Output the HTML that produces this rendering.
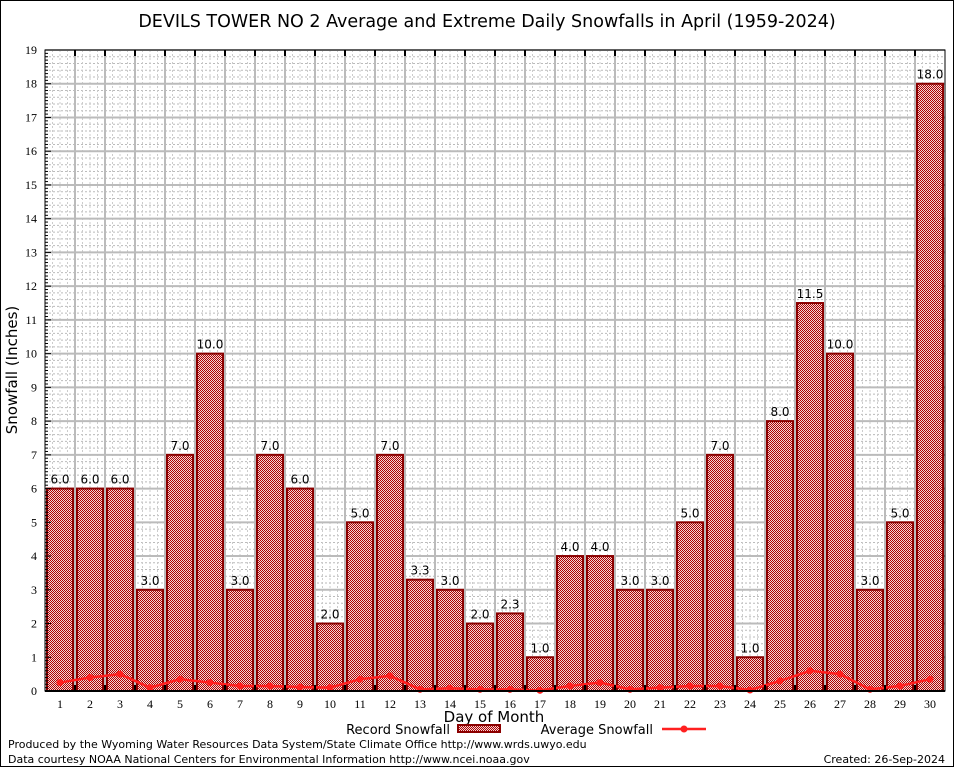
<!DOCTYPE html>
<html><head><meta charset="utf-8"><style>
body{margin:0;background:#fff}
svg text{font-family:"DejaVu Sans","Liberation Sans",sans-serif}
.tk{font-family:"Liberation Serif","DejaVu Serif",serif;font-size:12px}
</style></head><body>
<svg id="c" width="954" height="768" xmlns="http://www.w3.org/2000/svg">
<defs>
<pattern id="chk" width="2" height="2" patternUnits="userSpaceOnUse">
<rect width="2" height="2" fill="#f0d8d8"/><rect width="1" height="1" fill="#b00000"/><rect x="1" y="1" width="1" height="1" fill="#b00000"/>
</pattern>
</defs>
<rect x="0.5" y="0.5" width="953" height="766" fill="#fff" stroke="#000"/>
<text x="487" y="27" font-size="17.5" text-anchor="middle">DEVILS TOWER NO 2 Average and Extreme Daily Snowfalls in April (1959-2024)</text>
<g id="grid"></g>
<g id="bars"></g>
<g id="avg"></g>
<g id="axes"></g>
<text x="17" y="370" font-size="15" text-anchor="middle" transform="rotate(-90 17 370)">Snowfall (Inches)</text>
<text x="494" y="722" font-size="15" text-anchor="middle">Day of Month</text>
<g>
<text x="450" y="734" font-size="13" text-anchor="end">Record Snowfall</text>
<rect x="458" y="725" width="42" height="7" fill="url(#chk)" stroke="#8b0000" stroke-width="2"/>
<text x="653" y="734" font-size="13" text-anchor="end">Average Snowfall</text>
<line x1="662" y1="729" x2="706" y2="729" stroke="#ff2020" stroke-width="2.5"/>
<circle cx="684" cy="729" r="3.5" fill="#ff2020"/>
</g>
<text x="8" y="748" font-size="11">Produced by the Wyoming Water Resources Data System/State Climate Office http://www.wrds.uwyo.edu</text>
<text x="8" y="763" font-size="11">Data courtesy NOAA National Centers for Environmental Information http://www.ncei.noaa.gov</text>
<text x="945" y="763" font-size="11" text-anchor="end">Created: 26-Sep-2024</text>
</svg>
<script>
const days=[1,2,3,4,5,6,7,8,9,10,11,12,13,14,15,16,17,18,19,20,21,22,23,24,25,26,27,28,29,30];
const recordSnow=[6,6,6,3,7,10,3,7,6,2,5,7,3.3,3,2,2.3,1,4,4,3,3,5,7,1,8,11.5,10,3,5,18];
const avgSnow=[0.25,0.4,0.5,0.1,0.35,0.25,0.15,0.15,0.12,0.1,0.35,0.45,0.05,0.08,0.05,0.05,0.02,0.15,0.25,0.05,0.1,0.15,0.15,0.03,0.3,0.6,0.5,0.05,0.15,0.35];
const yTicks=[0,1,2,3,4,5,6,7,8,9,10,11,12,13,14,15,16,17,18,19];
const L=45,R=945,T=50,B=691,YMAX=19;
const x=d=>L+(d-0.5)*30;
const y=v=>B-(v/YMAX)*(B-T);
const NS="http://www.w3.org/2000/svg";
function mk(p,tag,at){const e=document.createElementNS(NS,tag);for(const k in at)e.setAttribute(k,at[k]);p.appendChild(e);return e;}
const g=document.getElementById('grid');
mk(g,'rect',{x:L,y:T,width:R-L,height:B-T,fill:'#fff'});
for(let v=0;v<YMAX;v+=0.2){mk(g,'line',{x1:L,x2:R,y1:y(v),y2:y(v),stroke:'#bbb','stroke-width':1,'stroke-dasharray':'2,2'});}
for(let xx=L+7.5;xx<R;xx+=7.5){mk(g,'line',{x1:xx,x2:xx,y1:T,y2:B,stroke:'#ccc','stroke-width':1,'stroke-dasharray':'2,2'});}
yTicks.forEach(v=>{const l=mk(g,'line',{x1:L,x2:R,y1:y(v),y2:y(v),stroke:'#bbb','stroke-width':2});

});
for(let i=1;i<30;i++){mk(g,'line',{x1:L+i*30,x2:L+i*30,y1:T,y2:B,stroke:'#bbb','stroke-width':2});}
const b=document.getElementById('bars');
days.forEach((d,i)=>{const v=recordSnow[i];
const r=mk(b,'rect',{x:x(d)-13,y:y(v),width:26,height:B-y(v),fill:'url(#chk)',stroke:'#8b0000','stroke-width':2});


const t=mk(b,'text',{x:x(d),y:y(v)-5,'font-size':12,'text-anchor':'middle'});
t.textContent=v.toFixed(1);

});
const a=document.getElementById('avg');
const pl=mk(a,'polyline',{points:days.map((d,i)=>x(d)+','+y(avgSnow[i])).join(' '),fill:'none',stroke:'#ff2020','stroke-width':2.5});


days.forEach((d,i)=>{const c=mk(a,'circle',{cx:x(d),cy:y(avgSnow[i]),r:3.5,fill:'#ff2020'});

});
const ax=document.getElementById('axes');
mk(ax,'rect',{x:L,y:T,width:R-L,height:B-T,fill:'none',stroke:'#000','stroke-width':1});
mk(ax,'line',{x1:L,x2:R,y1:B,y2:B,stroke:'#000','stroke-width':2});
for(let k=0;k<YMAX*10;k++){const v=k/10;mk(ax,'line',{x1:L,x2:L+(k%10==0?6:3),y1:y(v),y2:y(v),stroke:'#000','stroke-width':1});}
for(let i=1;i<30;i++){mk(ax,'line',{x1:L+i*30,x2:L+i*30,y1:T,y2:T+6,stroke:'#000','stroke-width':2});mk(ax,'line',{x1:L+i*30,x2:L+i*30,y1:B,y2:B-6,stroke:'#000','stroke-width':2});}
yTicks.forEach(v=>{const t=mk(ax,'text',{x:L-8,y:y(v)+4,'text-anchor':'end',class:'tk'});t.textContent=v;

});
days.forEach(d=>{const t=mk(ax,'text',{x:x(d),y:B+17,'text-anchor':'middle',class:'tk'});t.textContent=d;

});
</script>
</body></html>
